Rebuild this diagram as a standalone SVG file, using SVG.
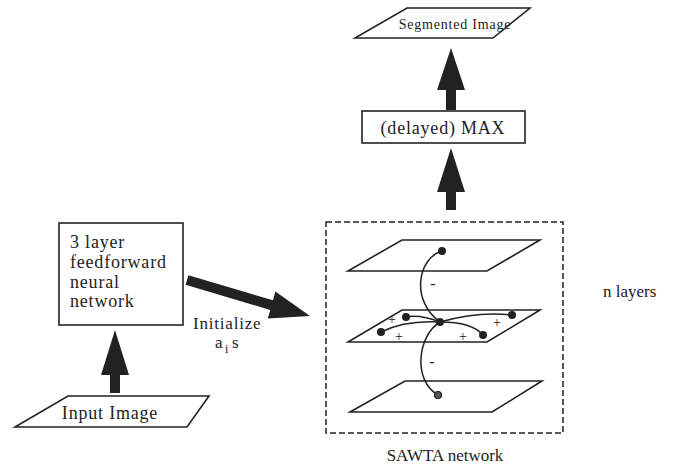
<svg xmlns="http://www.w3.org/2000/svg" width="677" height="467" viewBox="0 0 677 467">
<style>
text{font-family:'Liberation Serif','DejaVu Serif','Times New Roman',serif;fill:#222}
.w{letter-spacing:0.8px}
.ln{fill:none;stroke:#222;stroke-width:1.5}
.pl{fill:#fff;stroke:#222;stroke-width:1.6}
.ar{fill:#222;stroke:none}
.dot{fill:#222}
.pm{font-size:14px;text-anchor:middle}
</style>
<rect width="677" height="467" fill="#fff"/>

<g id="segmented-image">
<polygon class="pl" points="407,8 530,8 493,38 355,38"/>
<text class="w" x="455" y="29" font-size="14" text-anchor="middle">Segmented Image</text>
</g>

<g id="max">
<rect class="pl" x="362" y="111" width="163" height="32"/>
<text class="w" x="443" y="134" font-size="18" text-anchor="middle">(delayed) MAX</text>
</g>

<g id="feedforward">
<rect class="pl" x="59" y="223" width="124" height="102"/>
<text class="w" x="70" y="248" font-size="18">3 layer</text>
<text class="w" x="70" y="268" font-size="18">feedforward</text>
<text class="w" x="70" y="288" font-size="18">neural</text>
<text class="w" x="70" y="307" font-size="18">network</text>
</g>

<g id="input-image">
<polygon class="pl" points="68,396 209,396 187,427 15,427"/>
<text class="w" x="110" y="419" font-size="18" text-anchor="middle">Input Image</text>
</g>

<g id="sawta">
<rect x="326" y="222" width="237" height="211" fill="none" stroke="#222" stroke-width="1.5" stroke-dasharray="6,3"/>
<polygon class="pl" points="402,240 540,240 487,271 348,271"/>
<polygon class="pl" points="402,310 540,310 487,342 348,342"/>
<polygon class="pl" points="405,381 542,381 492,412 350,412"/>
<path class="ln" d="M442,251 C418,258 410,300 440,322"/>
<path class="ln" d="M440,322 C418,335 412,380 438,395"/>
<path class="ln" d="M440,322 Q420,314 406,317"/>
<path class="ln" d="M440,322 Q478,311 512,315"/>
<path class="ln" d="M440,322 Q405,320 381,332"/>
<path class="ln" d="M440,322 Q472,322 483,335"/>
<circle class="dot" cx="442" cy="251" r="4"/>
<circle class="dot" cx="440" cy="322" r="4"/>
<circle class="dot" cx="406" cy="317" r="4"/>
<circle class="dot" cx="512" cy="315" r="4"/>
<circle class="dot" cx="381" cy="332" r="4"/>
<circle class="dot" cx="483" cy="335" r="4"/>
<circle cx="438" cy="395" r="3.5" fill="#555" stroke="#222" stroke-width="1.2"/>
<text x="433" y="289" font-size="16" text-anchor="middle">-</text>
<text x="432" y="367" font-size="16" text-anchor="middle">-</text>
<text class="pm" x="392" y="324">+</text>
<text class="pm" x="497" y="327">+</text>
<text class="pm" x="399" y="341">+</text>
<text class="pm" x="463" y="341">+</text>
<text x="445" y="461" font-size="17" text-anchor="middle">SAWTA network</text>
<text x="603" y="297" font-size="17">n layers</text>
</g>

<g id="connectors">
<polygon class="ar" points="115,330 129,375 120,375 120,393 110,393 110,375 101,375"/>
<polygon class="ar" points="188.4,275.2 273,300.3 275.4,291.6 310,316 267.8,318.6 270.2,309.9 185.6,284.8"/>
<polygon class="ar" points="451,148 465,192 456,192 456,210 446,210 446,192 437,192"/>
<polygon class="ar" points="451,48 465,90 456,90 456,110 446,110 446,90 437,90"/>
<text class="w" x="193" y="329" font-size="17">Initialize</text>
<text x="215" y="348" font-size="17">a</text>
<text x="225" y="353" font-size="12">i</text>
<text x="232" y="348" font-size="17">s</text>
</g>
</svg>
